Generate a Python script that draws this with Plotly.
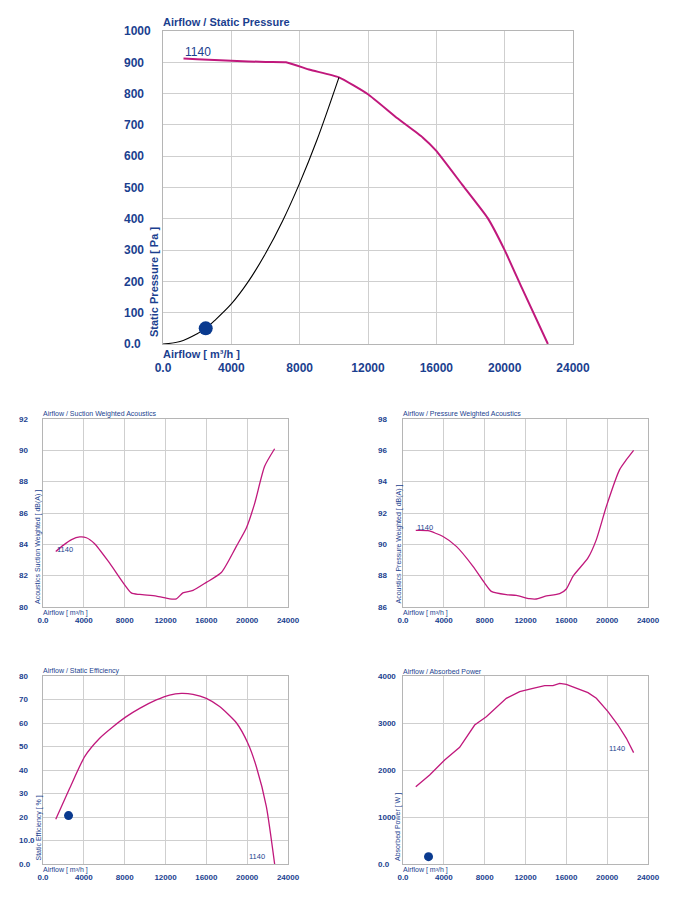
import plotly.graph_objects as go

# ---------------- data ----------------
x_ticks = [0, 4000, 8000, 12000, 16000, 20000, 24000]
x_ticktext = ["0.0", "4000", "8000", "12000", "16000", "20000", "24000"]

# Static pressure curve
sp_x = [1200, 2000, 4000, 6000, 7200, 8600, 10300, 12000, 13700, 15200, 16000, 17500, 19000, 20000, 21000, 22530]
sp_y = [912, 910, 905, 901, 900, 876, 852, 798, 722, 660, 617, 510, 403, 300, 180, 0]
sp_ticks = [0, 100, 200, 300, 400, 500, 600, 700, 800, 900, 1000]
sp_ticktext = ["0.0", "100", "200", "300", "400", "500", "600", "700", "800", "900", "1000"]

# System curve
sys_x = [0, 1000, 2000, 2500, 3000, 4000, 5000, 6000, 7000, 8000, 9000, 10300]
sys_y = [0, 8, 33, 50, 74, 128, 200, 289, 393, 514, 650, 852]

# Operating point
op_x = [2500]
op_p = [50]
op_eff = [20.6]
op_pow = [156]

# Suction weighted acoustics
sa_x = [1250, 2000, 2800, 3600, 4250, 5060, 6530, 8650, 9470, 11100, 12400, 13060, 13700, 14700, 16000, 17470, 18940, 19920, 20730, 21710, 22690]
sa_y = [83.55, 83.95, 84.3, 84.47, 84.42, 84.04, 82.8, 80.9, 80.8, 80.7, 80.52, 80.52, 80.9, 81.06, 81.57, 82.2, 83.87, 85.04, 86.6, 88.98, 90.1]
sa_ticks = [80, 82, 84, 86, 88, 90, 92]

# Pressure weighted acoustics
pa_x = [1250, 2450, 3918, 5224, 6857, 8000, 8650, 10120, 11100, 12400, 13060, 13880, 15350, 16000, 16650, 18120, 18940, 19920, 21220, 21880, 22590]
pa_y = [90.89, 90.87, 90.5, 89.87, 88.6, 87.53, 87.0, 86.79, 86.74, 86.53, 86.51, 86.68, 86.85, 87.15, 87.96, 89.13, 90.3, 92.42, 94.77, 95.4, 96.0]
pa_ticks = [86, 88, 90, 92, 94, 96, 98]

# Static efficiency
ef_x = [1250, 2612, 4080, 5550, 6857, 8160, 9470, 11100, 12400, 13550, 14690, 16000, 17300, 18940, 20080, 20900, 21880, 22690]
ef_y = [19.0, 32.2, 45.7, 53.5, 58.4, 62.7, 66.2, 69.8, 71.9, 72.6, 72.2, 70.5, 67.0, 60.1, 51.3, 41.4, 24.4, 0]
ef_ticks = [0, 10, 20, 30, 40, 50, 60, 70, 80]
ef_ticktext = ["0.0", "10.0", "20", "30", "40", "50", "60", "70", "80"]

# Absorbed power
pw_x = [1250, 2612, 4080, 5550, 7020, 8160, 10120, 11430, 12730, 13880, 14690, 15350, 16000, 17000, 18120, 18940, 20080, 21060, 21880, 22590]
pw_y = [1645, 1894, 2213, 2482, 2957, 3135, 3525, 3667, 3738, 3794, 3794, 3844, 3823, 3738, 3645, 3525, 3241, 2957, 2674, 2369]
pw_ticks = [0, 1000, 2000, 3000, 4000]
pw_ticktext = ["0.0", "1000", "2000", "3000", "4000"]

# ---------------- style ----------------
W, H = 686, 898
NAVY = "#1b3f8f"
MAG = "#c0187c"
GRID = "#cfcfcf"
BORDER = "#b5b5b5"
FONT = "Liberation Sans, Arial, sans-serif"


def px_x(p):
    return p / W


def px_y(p):
    return 1 - p / H


fig = go.Figure()

# main chart
fig.add_trace(go.Scatter(x=sp_x, y=sp_y, mode="lines", line=dict(color=MAG, width=2, shape="spline", smoothing=0.4), xaxis="x", yaxis="y", hoverinfo="skip"))
fig.add_trace(go.Scatter(x=sys_x, y=sys_y, mode="lines", line=dict(color="black", width=1.1, shape="spline"), xaxis="x", yaxis="y", hoverinfo="skip"))
fig.add_trace(go.Scatter(x=op_x, y=op_p, mode="markers", marker=dict(color="#0a3a8f", size=14), xaxis="x", yaxis="y", hoverinfo="skip"))

fig.add_trace(go.Scatter(x=sa_x, y=sa_y, mode="lines", line=dict(color=MAG, width=1.3, shape="spline", smoothing=0.6), xaxis="x2", yaxis="y2", hoverinfo="skip"))
fig.add_trace(go.Scatter(x=pa_x, y=pa_y, mode="lines", line=dict(color=MAG, width=1.3, shape="spline", smoothing=0.6), xaxis="x3", yaxis="y3", hoverinfo="skip"))
fig.add_trace(go.Scatter(x=ef_x, y=ef_y, mode="lines", line=dict(color=MAG, width=1.3, shape="spline", smoothing=0.6), xaxis="x4", yaxis="y4", hoverinfo="skip"))
fig.add_trace(go.Scatter(x=op_x, y=op_eff, mode="markers", marker=dict(color="#0a3a8f", size=9), xaxis="x4", yaxis="y4", hoverinfo="skip"))
fig.add_trace(go.Scatter(x=pw_x, y=pw_y, mode="lines", line=dict(color=MAG, width=1.3), xaxis="x5", yaxis="y5", hoverinfo="skip"))
fig.add_trace(go.Scatter(x=op_x, y=op_pow, mode="markers", marker=dict(color="#0a3a8f", size=9), xaxis="x5", yaxis="y5", hoverinfo="skip"))

# axes geometry (pixels); "lab" = left edge of the left-aligned y tick labels
main = dict(l=163, r=573, t=31, b=344, lab=126)
small = {
    2: dict(l=43, r=288, t=419, b=607, lab=21),
    3: dict(l=403, r=648, t=419, b=607, lab=380),
    4: dict(l=43, r=288, t=676, b=864, lab=21),
    5: dict(l=403, r=648, t=676, b=864, lab=380),
}


def xaxis_cfg(g, anchor, fs, standoff):
    return dict(domain=[px_x(g["l"]), px_x(g["r"])], range=[0, 24000], tickvals=x_ticks, ticktext=x_ticktext,
                showgrid=True, gridcolor=GRID, gridwidth=1, zeroline=False, showline=True, linecolor=BORDER,
                mirror=True, ticks="outside", ticklen=standoff, tickcolor="rgba(0,0,0,0)", anchor=anchor,
                automargin=False,
                tickfont=dict(family=FONT, size=fs, color=NAVY, weight="bold"), fixedrange=True)


def yaxis_cfg(g, anchor, rng, tv):
    return dict(domain=[px_y(g["b"]), px_y(g["t"])], range=rng, tickvals=tv, showticklabels=False,
                showgrid=True, gridcolor=GRID, gridwidth=1, zeroline=False, showline=True, linecolor=BORDER,
                mirror=True, ticks="", anchor=anchor, automargin=False, fixedrange=True)


def ylabel_cfg(g, over, rng, tv, tt, fs):
    # overlay axis that only carries left-aligned tick labels
    return dict(overlaying=over, anchor="free", position=px_x(g["lab"] - 3), side="right",
                range=rng, tickvals=tv, ticktext=tt,
                showgrid=False, zeroline=False, showline=False, ticks="", automargin=False, fixedrange=True,
                tickfont=dict(family=FONT, size=fs, color=NAVY, weight="bold"))


layout = dict(
    width=W, height=H, margin=dict(l=0, r=0, t=0, b=0, pad=0), showlegend=False,
    paper_bgcolor="white", plot_bgcolor="white",
    xaxis=xaxis_cfg(main, "y", 12, 13),
    yaxis=yaxis_cfg(main, "x", [0, 1000], sp_ticks),
    yaxis6=ylabel_cfg(main, "y", [0, 1000], sp_ticks, sp_ticktext, 12),
    xaxis2=xaxis_cfg(small[2], "y2", 8, 5),
    yaxis2=yaxis_cfg(small[2], "x2", [80, 92], sa_ticks),
    yaxis7=ylabel_cfg(small[2], "y2", [80, 92], sa_ticks, [str(v) for v in sa_ticks], 8),
    xaxis3=xaxis_cfg(small[3], "y3", 8, 5),
    yaxis3=yaxis_cfg(small[3], "x3", [86, 98], pa_ticks),
    yaxis8=ylabel_cfg(small[3], "y3", [86, 98], pa_ticks, [str(v) for v in pa_ticks], 8),
    xaxis4=xaxis_cfg(small[4], "y4", 8, 5),
    yaxis4=yaxis_cfg(small[4], "x4", [0, 80], ef_ticks),
    yaxis9=ylabel_cfg(small[4], "y4", [0, 80], ef_ticks, ef_ticktext, 8),
    xaxis5=xaxis_cfg(small[5], "y5", 8, 5),
    yaxis5=yaxis_cfg(small[5], "x5", [0, 4000], pw_ticks),
    yaxis10=ylabel_cfg(small[5], "y5", [0, 4000], pw_ticks, pw_ticktext, 8),
)
fig.update_layout(**layout)

# empty carrier traces so the label-only overlay axes are drawn
for xa, ya in [("x", "y6"), ("x2", "y7"), ("x3", "y8"), ("x4", "y9"), ("x5", "y10")]:
    fig.add_trace(go.Scatter(x=[], y=[], xaxis=xa, yaxis=ya, hoverinfo="skip"))

ann = []


def txt(x, y, s, size, xref="paper", yref="paper", xanchor="left", yanchor="middle", angle=0, bold=False):
    ann.append(dict(x=x, y=y, xref=xref, yref=yref, text=s, showarrow=False, xanchor=xanchor, yanchor=yanchor,
                    textangle=angle, borderpad=0,
                    font=dict(family=FONT, size=size, color=NAVY, weight="bold" if bold else "normal")))


# main chart texts
txt(px_x(162), px_y(22), "Airflow / Static Pressure", 11, bold=True)
txt(px_x(162), px_y(354), "Airflow [ m³/h ]", 11, bold=True)
txt(px_x(154), px_y(338), "Static Pressure [ Pa ]", 11, xanchor="center", yanchor="bottom", angle=-90, bold=True)
txt(1250, 932, "1140", 12, xref="x", yref="y")

titles = {2: "Airflow / Suction Weighted Acoustics", 3: "Airflow / Pressure Weighted Acoustics",
          4: "Airflow / Static Efficiency", 5: "Airflow / Absorbed Power"}
ytitles = {2: "Acoustics Suction Weighted [ dB(A) ]", 3: "Acoustics Pressure Weighted [ dB(A) ]",
           4: "Static Efficiency [ % ]", 5: "Absorbed Power [ W ]"}
for k, g in small.items():
    txt(px_x(g["l"] - 1), px_y(g["t"] - 5), titles[k], 7)
    txt(px_x(g["l"] - 1), px_y(g["b"] + 6), "Airflow [ m³/h ]", 7)
    txt(px_x(g["l"] - 5), px_y(g["b"] - 2), ytitles[k], 7, xanchor="center", yanchor="bottom", angle=-90)

txt(1300, 83.7, "1140", 7.5, xref="x2", yref="y2")
txt(1300, 91.1, "1140", 7.5, xref="x3", yref="y3", yanchor="middle")
txt(20080, 3.0, "1140", 7.5, xref="x4", yref="y4")
txt(20080, 2468, "1140", 7.5, xref="x5", yref="y5")

fig.update_layout(annotations=ann)
fig.write_html("out.html")
